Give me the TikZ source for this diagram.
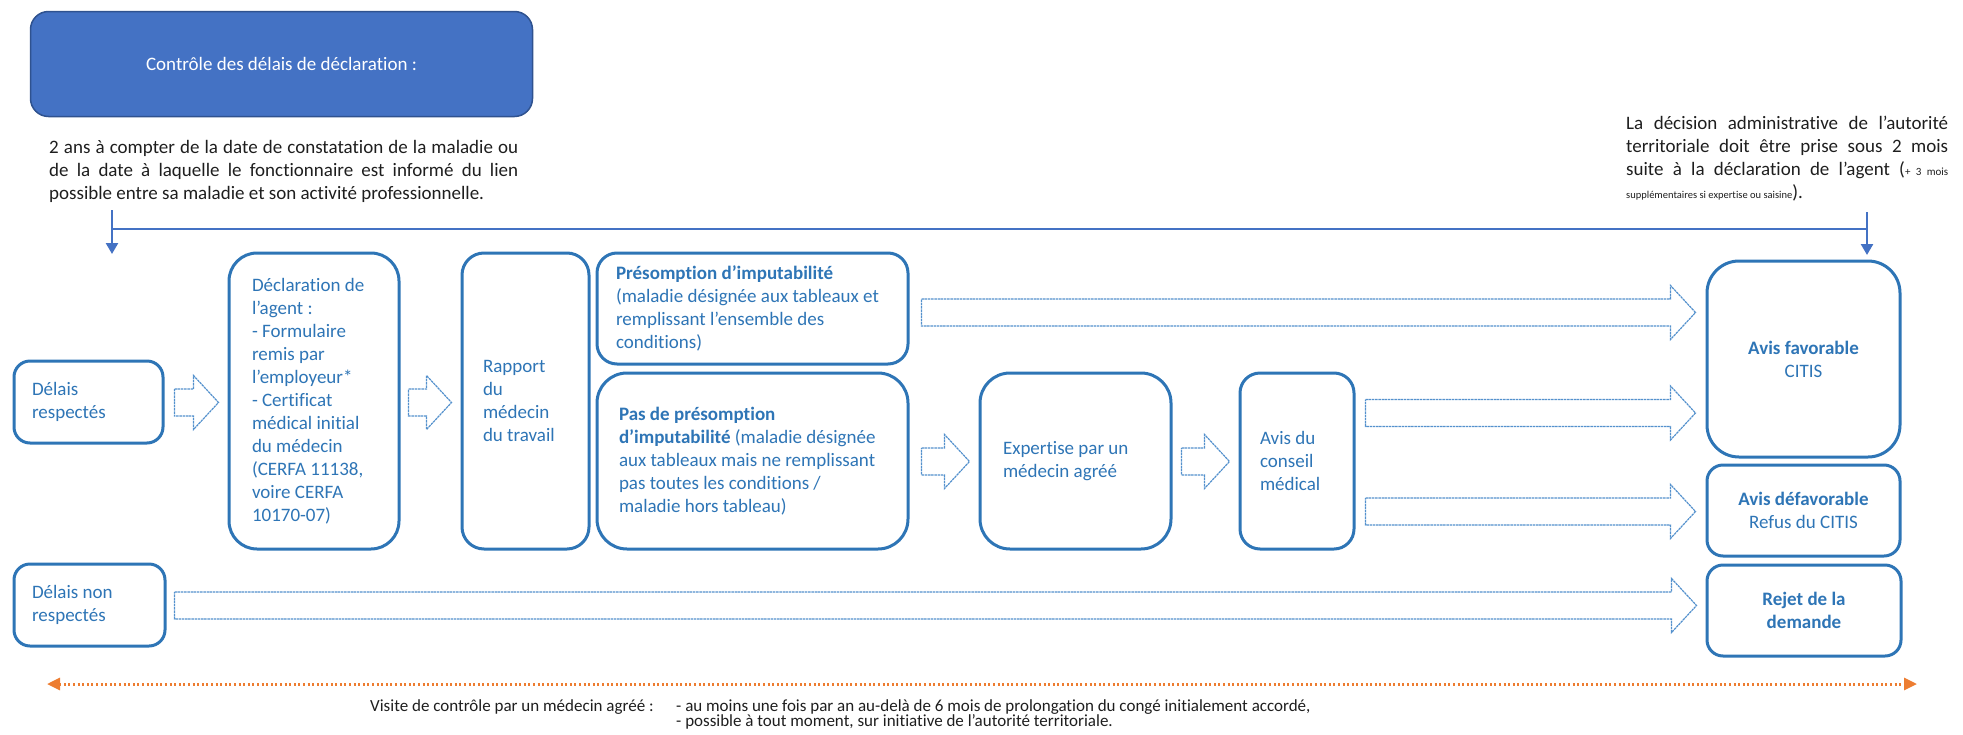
\documentclass[tikz,border=0pt]{standalone}
\usepackage{fontspec}
\setmainfont{Carlito}[Ligatures={TeX,NoCommon}]
\usetikzlibrary{arrows.meta,calc,positioning}

\definecolor{titleblue}{RGB}{68,114,196}
\definecolor{titleedge}{RGB}{47,82,143}
\definecolor{boxblue}{RGB}{46,117,182}
\definecolor{arrowblue}{RGB}{84,145,205}
\definecolor{dotorange}{RGB}{237,125,49}
\definecolor{inkgray}{RGB}{30,30,30}

\tikzset{
  flowbox/.style={draw=boxblue, line width=3pt, fill=white, text=boxblue,
    inner ysep=0pt, font=\fontsize{19}{23}\selectfont},
  leftbox/.style={flowbox, align=flush left},
  midbox/.style={flowbox, align=center},
  titlebox/.style={draw=titleedge, line width=1.5pt, fill=titleblue, text=white,
    rounded corners=18pt, minimum width=502pt, minimum height=105pt,
    font=\fontsize{19}{23}\selectfont},
  notetext/.style={text=inkgray, inner sep=0pt, align=justify,
    font=\fontsize{19}{23}\selectfont},
  visittext/.style={text=inkgray, inner sep=0pt, font=\fontsize{17}{15.5}\selectfont},
  guide/.style={draw=titleblue, line width=2.5pt},
  visitline/.style={draw=dotorange, line width=3pt, dash pattern=on 2pt off 2.6pt},
  blockarrow/.style={draw=arrowblue, fill=white, line width=1.2pt,
    dash pattern=on 2.5pt off 0.7pt,
    to path={let \p1=(\tikztostart), \p2=(\tikztotarget) in
      (\x1,\y1+13.5pt) -- (\x2-25pt,\y1+13.5pt) -- (\x2-25pt,\y1+27pt) -- (\x2,\y1)
      -- (\x2-25pt,\y1-27pt) -- (\x2-25pt,\y1-13.5pt) -- (\x1,\y1-13.5pt) -- cycle}}
}

\begin{document}
\begin{tikzpicture}[x=1pt, y=-1pt, >={Triangle[length=11pt,width=12pt]}]
  % 1 unit = 1 px of the reference, y grows downwards
  \useasboundingbox (0,0) rectangle (1963,734);

  % heading and delay notes
  \node[titlebox] (titre) at (281.5,64) {Contrôle des délais de déclaration :};
  \node[notetext, text width=469pt, anchor=north west] (delai) at (49,140)
    {2 ans à compter de la date de constatation de la maladie ou\linebreak
     de la date à laquelle le fonctionnaire est informé du lien\linebreak
     possible entre sa maladie et son activité professionnelle.};
  \node[notetext, text width=322pt, anchor=north west] (decision) at (1626,116)
    {La décision administrative de l’autorité\linebreak
     territoriale doit être prise sous 2 mois\linebreak
     suite à la déclaration de l’agent ({\fontsize{11}{12}\selectfont + 3 mois}\linebreak
     {\fontsize{10.5}{12}\selectfont supplémentaires si expertise ou saisine}).};

  % delay brackets
  \coordinate (gtop) at (112,210);
  \coordinate (gjoin) at (112,229);
  \coordinate (gbot) at (112,254);
  \coordinate (dtop) at (1867,212);
  \coordinate (djoin) at (1867,229);
  \coordinate (dbot) at (1867,255);
  \draw[guide,->,titleblue] (gtop) -- (gbot);
  \draw[guide] (gjoin) -- (djoin);
  \draw[guide,->,titleblue] (dtop) -- (dbot);

  % left column
  \node[leftbox, inner xsep=18pt, text width=113pt, minimum height=82pt,
    rounded corners=16pt] (delok) at (88.5,402) {Délais\\respectés};
  \node[leftbox, inner xsep=18pt, text width=115pt, minimum height=82pt,
    rounded corners=16pt] (deltard) at (89.5,605) {Délais non\\respectés};

  % procedure
  \node[leftbox, inner xsep=23pt, text width=124pt, minimum height=296pt,
    rounded corners=28pt] (decl) at (314,401)
    {Déclaration de\\l’agent :\\- Formulaire\\remis par\\l’employeur*\\- Certificat\\médical initial\\du médecin\\(CERFA 11138,\\voire CERFA\\10170-07)};
  \node[leftbox, inner xsep=21pt, text width=85pt, minimum height=296pt,
    rounded corners=22pt] (rapport) at (525.5,401)
    {Rapport\\du\\médecin\\du travail};
  \node[leftbox, inner xsep=19pt, text width=273pt, minimum height=111pt,
    rounded corners=20pt] (presomp) at (752.5,308.5)
    {\textbf{Présomption d’imputabilité}\\(maladie désignée aux tableaux et\\remplissant l’ensemble des\\conditions)};
  \node[leftbox, inner xsep=22pt, text width=267pt, minimum height=176pt,
    rounded corners=30pt] (nopresomp) at (752.5,461)
    {\textbf{Pas de présomption}\\\textbf{d’imputabilité} (maladie désignée\\aux tableaux mais ne remplissant\\pas toutes les conditions /\\maladie hors tableau)};
  \node[leftbox, inner xsep=23pt, text width=145pt, minimum height=176pt,
    rounded corners=30pt] (expertise) at (1075.5,461)
    {Expertise par un\\médecin agréé};
  \node[leftbox, inner xsep=20pt, text width=74pt, minimum height=176pt,
    rounded corners=20pt] (conseil) at (1297,461)
    {Avis du\\conseil\\médical};

  % outcomes
  \node[midbox, minimum width=193pt, minimum height=196pt,
    rounded corners=32pt] (favorable) at (1803.5,359)
    {\textbf{Avis favorable}\\CITIS};
  \node[midbox, minimum width=193pt, minimum height=91pt,
    rounded corners=16pt] (defavorable) at (1803.5,510.5)
    {\textbf{Avis défavorable}\\Refus du CITIS};
  \node[midbox, minimum width=194pt, minimum height=91pt,
    rounded corners=16pt] (rejet) at (1804,610.5)
    {\textbf{Rejet de la}\\\textbf{demande}};

  % block arrows
  \draw[blockarrow] ($(delok.east)+(10,0.5)$) to ($(decl.west)+(-9,0)$);
  \draw[blockarrow] ($(decl.east)+(8,1.5)$) to ($(rapport.west)+(-9,0)$);
  \draw[blockarrow] ($(presomp.east)+(12,4)$) to ($(favorable.west)+(-10,0)$);
  \draw[blockarrow] ($(nopresomp.east)+(12,0.5)$) to ($(expertise.west)+(-9,0)$);
  \draw[blockarrow] ($(expertise.east)+(9,0.5)$) to ($(conseil.west)+(-9,0)$);
  \draw[blockarrow] ($(conseil.east)+(10,-48)$) to ($(favorable.west)+(-10,0)$);
  \draw[blockarrow] ($(conseil.east)+(10,50.5)$) to ($(defavorable.west)+(-10,0)$);
  \draw[blockarrow] ($(deltard.east)+(8,0.5)$) to ($(rejet.west)+(-9,0)$);

  % control visit
  \coordinate (vleft) at (47,684);
  \coordinate (vright) at (1917,684);
  \draw[visitline, {Triangle[length=13pt,width=12pt]}-{Triangle[length=13pt,width=12pt]}, dotorange] (vleft) -- (vright);
  \node[visittext, anchor=west] (visite) at (370,707) {Visite de contrôle par un médecin agréé :};
  \node[visittext, anchor=north west, align=flush left] (frequence) at (676,699)
    {- au moins une fois par an au-delà de 6 mois de prolongation du congé initialement accordé,\\
     - possible à tout moment, sur initiative de l’autorité territoriale.};
\end{tikzpicture}
\end{document}
